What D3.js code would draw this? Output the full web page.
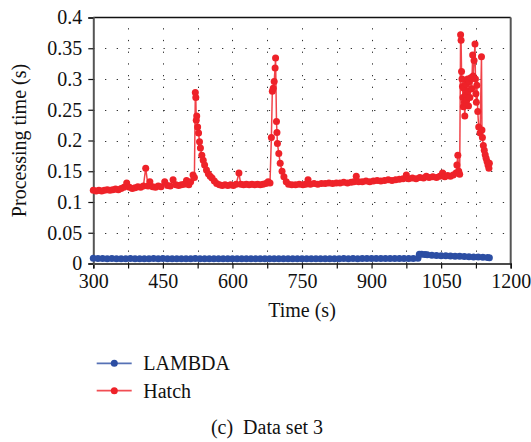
<!DOCTYPE html>
<html>
<head>
<meta charset="utf-8">
<script src="https://cdn.jsdelivr.net/npm/d3@7"></script>
<style>
  body { margin: 0; background: #fff; }
  svg text { font-family: "Liberation Serif", "DejaVu Serif", "Times New Roman", serif; }
</style>
</head>
<body>
<div id="chart"></div>
<script>
// Hatch (red) series
const hatchTime = [
  300, 306, 312, 318, 324, 330, 336, 342, 348, 354, 360, 366, 372, 378, 384, 390, 396, 402, 408, 413,
  418, 422, 428, 434, 440, 446, 454, 460, 466, 472, 478, 484, 490, 496, 501, 506, 510, 515, 518,
  520, 521, 522, 523, 525, 527, 529, 531, 534, 537, 540, 544, 548, 552, 556, 561, 566, 572, 578,
  584, 590, 596, 602, 608, 614, 618, 624, 630, 636, 642, 648, 654, 660, 666, 672, 677, 681,
  684, 686, 688, 690, 692, 693, 695, 696, 697, 700, 703, 707, 711, 716, 721, 728,
  736, 744, 752, 758, 763, 768, 776, 784, 792, 800, 808, 816, 824, 832, 840, 848, 856, 862, 867,
  872, 880, 888, 896, 904, 912, 920, 928, 936, 944, 952, 960, 968, 975, 980, 988, 996, 1004, 1012,
  1018, 1024, 1032, 1040, 1047, 1053, 1058, 1064, 1070, 1076, 1082, 1084, 1086, 1088, 1090,
  1092, 1093, 1094, 1095, 1096, 1097, 1098, 1099, 1100, 1101, 1103, 1104, 1105, 1107, 1108, 1109,
  1111, 1112, 1114, 1116, 1118, 1119, 1121, 1123, 1124, 1125, 1126, 1127, 1129, 1131, 1134, 1137,
  1138, 1139, 1141, 1143, 1145, 1147, 1149, 1151, 1153, 1154
];
const hatchValue = [
  0.119, 0.118, 0.119, 0.118, 0.119, 0.120, 0.119, 0.120, 0.121, 0.120, 0.122, 0.124, 0.131, 0.124, 0.122, 0.123, 0.125, 0.124, 0.126, 0.155,
  0.126, 0.133, 0.125, 0.124, 0.126, 0.125, 0.133, 0.127, 0.126, 0.136, 0.128, 0.127, 0.128, 0.129, 0.135, 0.128, 0.133, 0.144, 0.140,
  0.278, 0.270, 0.233, 0.240, 0.222, 0.212, 0.198, 0.188, 0.176, 0.168, 0.160, 0.152, 0.146, 0.142, 0.139, 0.134, 0.130, 0.128, 0.127,
  0.128, 0.127, 0.128, 0.127, 0.129, 0.147, 0.129, 0.128, 0.129, 0.128, 0.129, 0.128, 0.129, 0.128, 0.129, 0.130, 0.133, 0.131,
  0.205, 0.280, 0.285, 0.296, 0.318, 0.334, 0.231, 0.213, 0.195, 0.179, 0.163, 0.150, 0.141, 0.133, 0.129, 0.128,
  0.128, 0.129, 0.128, 0.129, 0.136, 0.129, 0.130, 0.129, 0.130, 0.130, 0.131, 0.130, 0.131, 0.131, 0.132, 0.131, 0.132, 0.133, 0.142,
  0.133, 0.133, 0.134, 0.133, 0.134, 0.135, 0.134, 0.135, 0.136, 0.135, 0.136, 0.137, 0.138, 0.144, 0.138, 0.139, 0.138, 0.140, 0.139,
  0.142, 0.140, 0.141, 0.140, 0.142, 0.147, 0.141, 0.143, 0.142, 0.144, 0.147, 0.160, 0.176, 0.150, 0.145,
  0.372, 0.363, 0.312, 0.300, 0.288, 0.270, 0.255, 0.285, 0.262, 0.240, 0.275, 0.292, 0.265, 0.300, 0.280, 0.256,
  0.296, 0.270, 0.302, 0.284, 0.339, 0.305, 0.330, 0.357, 0.300, 0.276, 0.262, 0.290, 0.247, 0.222, 0.212, 0.336,
  0.217, 0.205, 0.192, 0.184, 0.177, 0.171, 0.166, 0.160, 0.155, 0.163
];

// LAMBDA (blue) series
const lambdaTime = [
  300, 310, 320, 330, 340, 350, 360, 370, 380, 390, 400, 410, 420, 430, 440, 450, 460, 470, 480, 490,
  500, 510, 520, 530, 540, 550, 560, 570, 580, 590, 600, 610, 620, 630, 640, 650, 660, 670, 680, 690,
  700, 710, 720, 730, 740, 750, 760, 770, 780, 790, 800, 810, 820, 830, 840, 850, 860, 870, 880, 890,
  900, 910, 920, 930, 940, 950, 960, 970, 980, 990, 1000,
  1003, 1008, 1015, 1020, 1030, 1040, 1050, 1060, 1070, 1080, 1090, 1100, 1110, 1120, 1130, 1140, 1150, 1154
];
const lambdaValue = [
  0.0085, 0.0082, 0.0080, 0.0079, 0.0080, 0.0078, 0.0079, 0.0078, 0.0080, 0.0079, 0.0078, 0.0079, 0.0078, 0.0080, 0.0079, 0.0082, 0.0079, 0.0078, 0.0079, 0.0078,
  0.0079, 0.0078, 0.0080, 0.0079, 0.0078, 0.0077, 0.0078, 0.0079, 0.0078, 0.0077, 0.0078, 0.0079, 0.0078, 0.0077, 0.0078, 0.0077, 0.0078, 0.0079, 0.0078, 0.0077,
  0.0078, 0.0077, 0.0078, 0.0079, 0.0078, 0.0077, 0.0078, 0.0077, 0.0078, 0.0079, 0.0078, 0.0079, 0.0078, 0.0079, 0.0080, 0.0079, 0.0080, 0.0079, 0.0080, 0.0081,
  0.0080, 0.0081, 0.0080, 0.0081, 0.0082, 0.0081, 0.0082, 0.0081, 0.0082, 0.0083, 0.0085,
  0.0152, 0.0150, 0.0146, 0.0142, 0.0136, 0.0130, 0.0127, 0.0124, 0.0121, 0.0118, 0.0116, 0.0113, 0.0110, 0.0107, 0.0104, 0.0100, 0.0096, 0.0094
];

const xTicks = [300, 375, 450, 525, 600, 675, 750, 825, 900, 975, 1050, 1125, 1200];
const xTickLabels = ["300", "", "450", "", "600", "", "750", "", "900", "", "1050", "", "1200"];
const yTicks = [0, 0.05, 0.1, 0.15, 0.2, 0.25, 0.3, 0.35, 0.4];
const yTickLabels = ["0", "0.05", "0.1", "0.15", "0.2", "0.25", "0.3", "0.35", "0.4"];
const seriesNames = ["LAMBDA", "Hatch"];
const seriesColors = ["#2c4ea3", "#ee2229"];

const W = 531, H = 442;
const plot = {left: 93.3, right: 510.7, top: 17.5, bottom: 263.5};
const serif = "'Liberation Serif', 'DejaVu Serif', serif";

const svg = d3.select("#chart").append("svg")
  .attr("width", W).attr("height", H);

const x = d3.scaleLinear().domain([300, 1200]).range([plot.left, plot.right]);
const y = d3.scaleLinear().domain([0, 0.4]).range([plot.bottom, plot.top]);

// dotted grid
const grid = svg.append("g").attr("stroke", "#333").attr("stroke-width", 1)
  .attr("stroke-dasharray", "1.3,10.4");
grid.selectAll(".gx").data(xTicks.slice(1, -1)).enter().append("line")
  .attr("x1", d => Math.round(x(d)) + 0.5).attr("x2", d => Math.round(x(d)) + 0.5)
  .attr("y1", plot.bottom).attr("y2", plot.top);
grid.selectAll(".gy").data(yTicks.slice(1, -1)).enter().append("line")
  .attr("y1", d => Math.round(y(d)) + 0.5).attr("y2", d => Math.round(y(d)) + 0.5)
  .attr("x1", plot.left).attr("x2", plot.right);

// frame
svg.append("line").attr("x1", plot.left).attr("x2", plot.right)
  .attr("y1", plot.top).attr("y2", plot.top).attr("stroke", "#111").attr("stroke-width", 1.5);
svg.append("line").attr("x1", plot.right).attr("x2", plot.right)
  .attr("y1", plot.top).attr("y2", plot.bottom).attr("stroke", "#555").attr("stroke-width", 2);

// axes
const xAxis = svg.append("g")
  .attr("transform", "translate(0," + plot.bottom + ")")
  .call(d3.axisBottom(x).tickValues(xTicks).tickSize(5).tickPadding(5)
    .tickFormat((d, i) => xTickLabels[i]));
xAxis.attr("font-family", serif).attr("font-size", 20);
xAxis.select(".domain").attr("stroke", "#111").attr("stroke-width", 1.5);
xAxis.selectAll(".tick line").attr("stroke", "#111").attr("stroke-width", 1.2);
xAxis.selectAll("text").attr("fill", "#111");

const yAxis = svg.append("g")
  .attr("transform", "translate(" + plot.left + ",0)")
  .call(d3.axisLeft(y).tickValues(yTicks).tickSize(5).tickPadding(6)
    .tickFormat((d, i) => yTickLabels[i]));
yAxis.attr("font-family", serif).attr("font-size", 20);
yAxis.select(".domain").attr("stroke", "#555").attr("stroke-width", 2);
yAxis.selectAll(".tick line").attr("stroke", "#111").attr("stroke-width", 1.2);
yAxis.selectAll("text").attr("fill", "#111");

// axis titles
svg.append("text")
  .attr("x", 302).attr("y", 317)
  .attr("text-anchor", "middle").attr("font-size", 20).attr("fill", "#111")
  .text("Time (s)");
svg.append("text")
  .attr("transform", "translate(26,140.5) rotate(-90)")
  .attr("text-anchor", "middle").attr("font-size", 20).attr("fill", "#111")
  .text("Processing time (s)");

// series
const series = [
  {name: seriesNames[0], color: seriesColors[0], pts: lambdaTime.map((t, i) => [t, lambdaValue[i]])},
  {name: seriesNames[1], color: seriesColors[1], pts: hatchTime.map((t, i) => [t, hatchValue[i]])}
];
const line = d3.line().x(d => x(d[0])).y(d => y(d[1]));

series.forEach(s => {
  const g = svg.append("g");
  g.append("path").datum(s.pts)
    .attr("d", line).attr("fill", "none")
    .attr("stroke", s.color).attr("stroke-width", 1.5).attr("stroke-opacity", 0.85);
  g.selectAll("circle").data(s.pts).enter().append("circle")
    .attr("cx", d => x(d[0])).attr("cy", d => y(d[1]))
    .attr("r", 3.5).attr("fill", s.color);
});

// legend
const legend = svg.selectAll(".legend").data(series).enter().append("g")
  .attr("class", "legend")
  .attr("transform", (d, i) => "translate(0," + (363.3 + i * 27.4) + ")");
legend.append("line").attr("x1", 96.7).attr("x2", 131.7)
  .attr("stroke", d => d.color).attr("stroke-width", 1.8).attr("stroke-opacity", 0.8);
legend.append("circle").attr("cx", 114.3).attr("r", 3.5).attr("fill", d => d.color);
legend.append("text").attr("x", 143.3).attr("y", 7)
  .attr("font-size", 20).attr("fill", "#111")
  .text(d => d.name);

// caption
svg.append("text")
  .attr("x", 267).attr("y", 434)
  .attr("text-anchor", "middle").attr("font-size", 20).attr("fill", "#111")
  .text("(c)\u00a0\u00a0Data set 3");
</script>
</body>
</html>
